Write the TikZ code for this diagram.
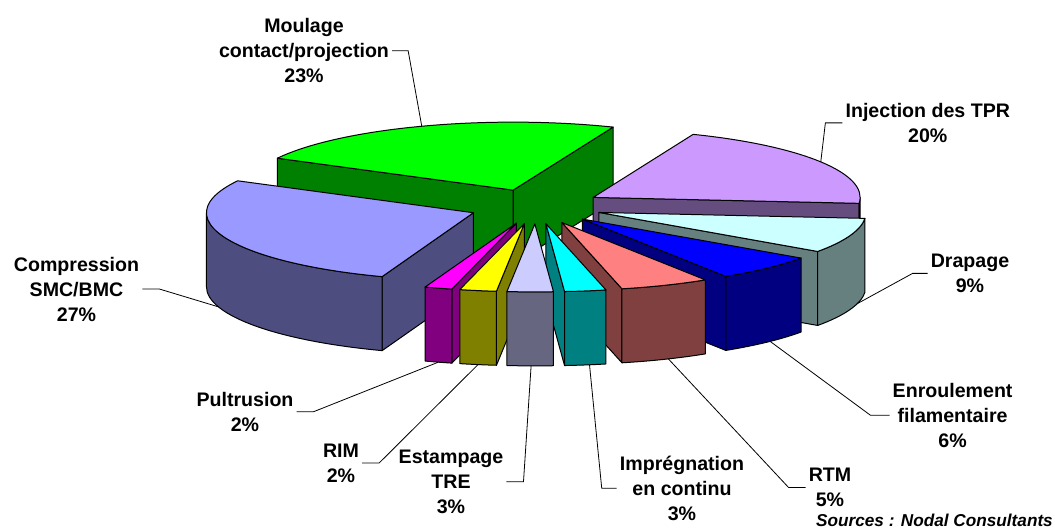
\documentclass[tikz,border=0pt]{standalone}
\usepackage{fontspec}
\setmainfont{Liberation Sans}
\usetikzlibrary{calc}
\definecolor{gTop}{RGB}{0,255,0}\definecolor{gSide}{RGB}{0,128,0}
\definecolor{pTop}{RGB}{204,153,255}\definecolor{pSide}{RGB}{102,77,128}
\definecolor{bTop}{RGB}{153,153,255}\definecolor{bSide}{RGB}{77,77,128}
\definecolor{dTop}{RGB}{204,255,255}\definecolor{dSide}{RGB}{102,128,128}
\definecolor{eTop}{RGB}{0,0,255}\definecolor{eSide}{RGB}{0,0,128}
\definecolor{rTop}{RGB}{255,128,128}\definecolor{rSide}{RGB}{128,64,64}
\definecolor{iTop}{RGB}{0,255,255}\definecolor{iSide}{RGB}{0,128,128}
\definecolor{sTop}{RGB}{204,204,255}\definecolor{sSide}{RGB}{102,102,128}
\definecolor{mTop}{RGB}{255,255,0}\definecolor{mSide}{RGB}{128,128,0}
\definecolor{uTop}{RGB}{255,0,255}\definecolor{uSide}{RGB}{128,0,128}
% slice apex from the pie centre, exploded along the mid angle
\newcommand\Apex[2]{\coordinate (#1) at ($(C)+({67*cos(#2)},{17.4*sin(#2)})$);}
% radial side face
\newcommand\RadFace[3]{\draw[face,fill=#3] (#1) -- ($(#1)+(#2:267 and 68)$) -- ++(0,-74) -- ($(#1)+(0,-74)$) -- cycle;}
% outer curved side face
\newcommand\OutFace[4]{\draw[face,fill=#4] ($(#1)+(#2:267 and 68)$) arc[start angle=#2,end angle=#3,x radius=267pt,y radius=68pt] -- ++(0,-74) arc[start angle=#3,end angle=#2,x radius=267pt,y radius=68pt] -- cycle;}
% top face
\newcommand\TopFace[4]{\draw[face,fill=#4] (#1) -- ($(#1)+(#2:267 and 68)$) arc[start angle=#2,end angle=#3,x radius=267pt,y radius=68pt] -- cycle;}
\begin{document}
\begin{tikzpicture}[x=1pt,y=1pt,
  face/.style={draw=black,line width=1pt,line join=round},
  leader/.style={draw=black,line width=0.8pt},
  lbl/.style={align=center,inner sep=3pt,font=\bfseries\fontsize{19.6}{25}\selectfont}]
\useasboundingbox (0,0) rectangle (1055,530);
\fill[white] (0,0) rectangle (1055,530);
\coordinate (C) at (536,323.5);
\Apex{G}{110}
\Apex{P}{31.5}
\Apex{B}{201}
\Apex{D}{-20}
\Apex{E}{-46.25}
\Apex{R}{-67.25}
\Apex{I}{-81.5}
\Apex{S}{-91}
\Apex{M}{-100}
\Apex{U}{-107}
% Moulage contact/projection
\RadFace{G}{68}{gSide}
\RadFace{G}{152}{gSide}
\TopFace{G}{68}{152}{gTop}
% Injection des TPR
\RadFace{P}{-5}{pSide}
\OutFace{P}{-5}{0}{pSide}
\TopFace{P}{-5}{68}{pTop}
% Compression SMC/BMC
\RadFace{B}{250}{bSide}
\OutFace{B}{180}{250}{bSide}
\TopFace{B}{152}{250}{bTop}
% Drapage
\RadFace{D}{-35}{dSide}
\OutFace{D}{-35}{-5}{dSide}
\TopFace{D}{-35}{-5}{dTop}
% Enroulement filamentaire
\RadFace{E}{-57.5}{eSide}
\OutFace{E}{-57.5}{-35}{eSide}
\TopFace{E}{-57.5}{-35}{eTop}
% RTM
\RadFace{R}{-77}{rSide}
\OutFace{R}{-77}{-57.5}{rSide}
\TopFace{R}{-77}{-57.5}{rTop}
% Impregnation en continu
\RadFace{I}{-86}{iSide}
\OutFace{I}{-86}{-77}{iSide}
\TopFace{I}{-86}{-77}{iTop}
% Pultrusion
\RadFace{U}{-104}{uSide}
\OutFace{U}{-110}{-104}{uSide}
\TopFace{U}{-110}{-104}{uTop}
% RIM
\RadFace{M}{-96}{mSide}
\OutFace{M}{-104}{-96}{mSide}
\TopFace{M}{-104}{-96}{mTop}
% Estampage TRE
\OutFace{S}{-96}{-86}{sSide}
\TopFace{S}{-96}{-86}{sTop}
% leader end points
\coordinate (eG) at ($(G)+(110:267 and 68)$);
\coordinate (eP) at ($(P)+(31.5:267 and 68)$);
\coordinate (eB) at ($(B)+(197.2:267 and 68)+(0,-74)$);
\coordinate (eD) at ($(D)+(-14.7:267 and 68)+(0,-74)$);
\coordinate (eE) at ($(E)+(-45.3:267 and 68)+(0,-74)$);
\coordinate (eR) at ($(R)+(-66.5:267 and 68)+(0,-74)$);
\coordinate (eI) at ($(I)+(-80.6:267 and 68)+(0,-74)$);
\coordinate (eS) at ($(S)+(-90.8:267 and 68)+(0,-74)$);
\coordinate (eM) at ($(M)+(-100:267 and 68)+(0,-74)$);
\coordinate (eU) at ($(U)+(-107:267 and 68)+(0,-74)$);
% labels
\node[lbl] (lG) at (304,479.3) {Moulage\\contact/projection\\23\%};
\node[lbl] (lP) at (927.8,407.1) {Injection des TPR\\20\%};
\node[lbl] (lD) at (970,256.6) {Drapage\\9\%};
\node[lbl] (lE) at (952.6,114.7) {Enroulement\\filamentaire\\6\%};
\node[lbl] (lR) at (830,42.5) {RTM\\5\%};
\node[lbl] (lI) at (682,41.7) {Imprégnation\\en continu\\3\%};
\node[lbl] (lS) at (451,48.3) {Estampage\\TRE\\3\%};
\node[lbl] (lM) at (341,67) {RIM\\2\%};
\node[lbl] (lU) at (245,118.3) {Pultrusion\\2\%};
\node[lbl] (lB) at (76.5,241) {Compression\\SMC/BMC\\27\%};
\node[anchor=base east,inner sep=0pt,font=\bfseries\itshape\fontsize{17.2}{20}\selectfont] (src) at (1053,3) {Sources : Nodal Consultants};
% leaders
\draw[leader] (lG.east) -- ++(16,0) -- (eG);
\draw[leader] (lP.west) -- ++(-17,0) -- (eP);
\draw[leader] (lD.west) -- ++(-15,0) -- (eD);
\draw[leader] (lE.west) -- ++(-19,0) -- (eE);
\draw[leader] (lR.west) -- ++(-17,0) -- (eR);
\draw[leader] (lI.west) -- ++(-15,0) -- (eI);
\draw[leader] (lS.east) -- ++(17,0) -- (eS);
\draw[leader] (lM.east) -- ++(17,0) -- (eM);
\draw[leader] (lU.east) -- ++(17,0) -- (eU);
\draw[leader] (lB.east) -- ++(17,0) -- (eB);
\end{tikzpicture}
\end{document}
